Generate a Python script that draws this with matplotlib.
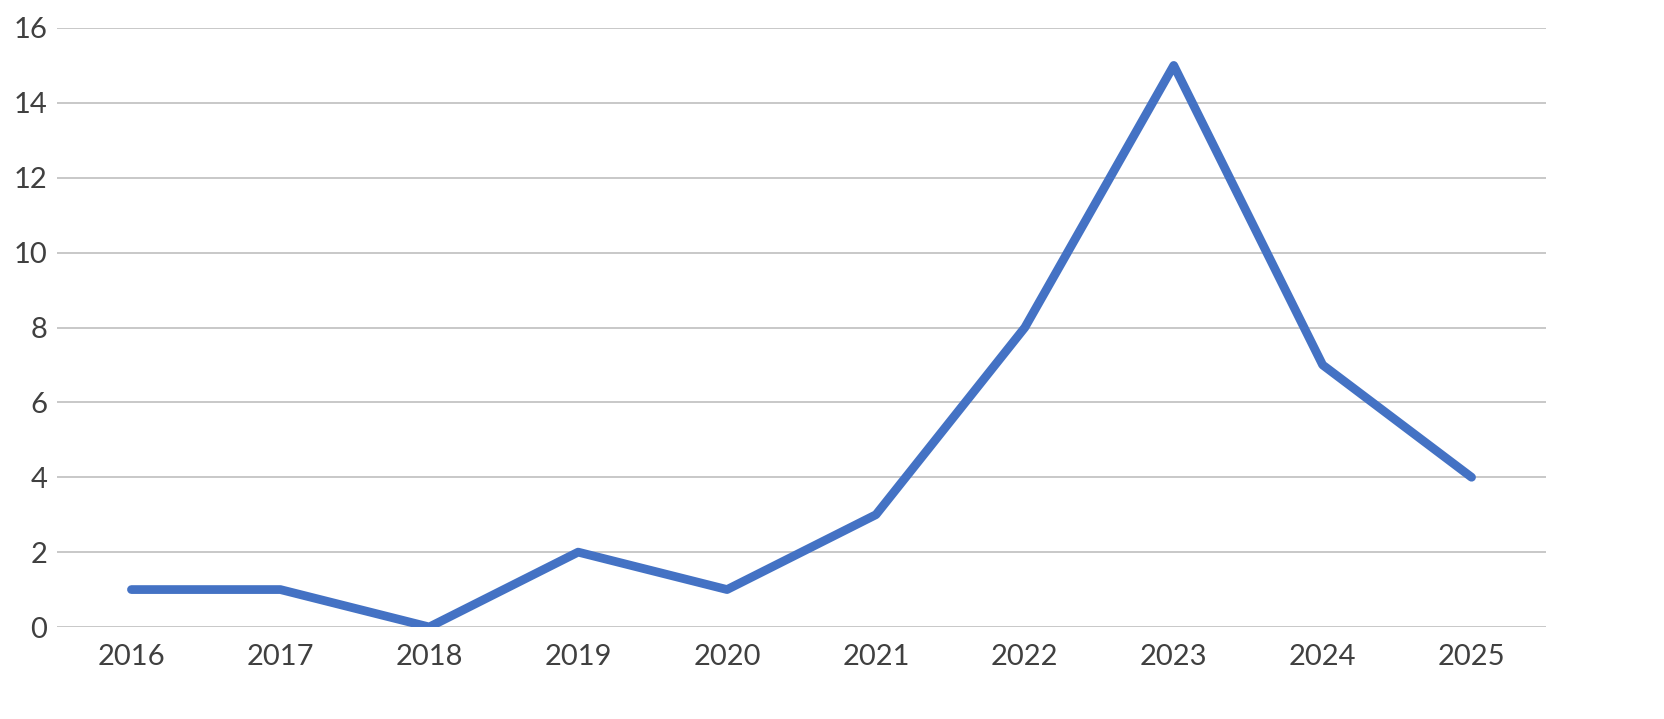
import matplotlib.pyplot as plt

plt.rcParams['font.family'] = ['Lato', 'DejaVu Sans']

years = ['2016', '2017', '2018', '2019', '2020', '2021', '2022', '2023', '2024', '2025']
counts = [1, 1, 0, 2, 1, 3, 8, 15, 7, 4]
yticks = [0, 2, 4, 6, 8, 10, 12, 14, 16]

fig = plt.figure(figsize=(16.65, 7.19), dpi=100)
ax = fig.add_axes([57 / 1665, 92 / 719, (1546 - 57) / 1665, (627 - 28) / 719])

x = list(range(len(years)))
ax.plot(x, counts, color='#4472C4', linewidth=6.3, solid_capstyle='round',
        solid_joinstyle='round', zorder=3)

ax.set_xlim(-0.5, len(years) - 0.5)
ax.set_ylim(0, 16)
ax.set_xticks(x)
ax.set_xticklabels(years)
ax.set_yticks(yticks)
ax.grid(axis='y', color='#c8c8c8', linewidth=1.4)
ax.set_axisbelow(True)
for s in ax.spines.values():
    s.set_visible(False)
ax.tick_params(axis='both', length=0, labelsize=21, labelcolor='#404040')
ax.tick_params(axis='x', pad=12)
ax.tick_params(axis='y', pad=7)

fig.savefig('out.png', dpi=100, facecolor='white')
